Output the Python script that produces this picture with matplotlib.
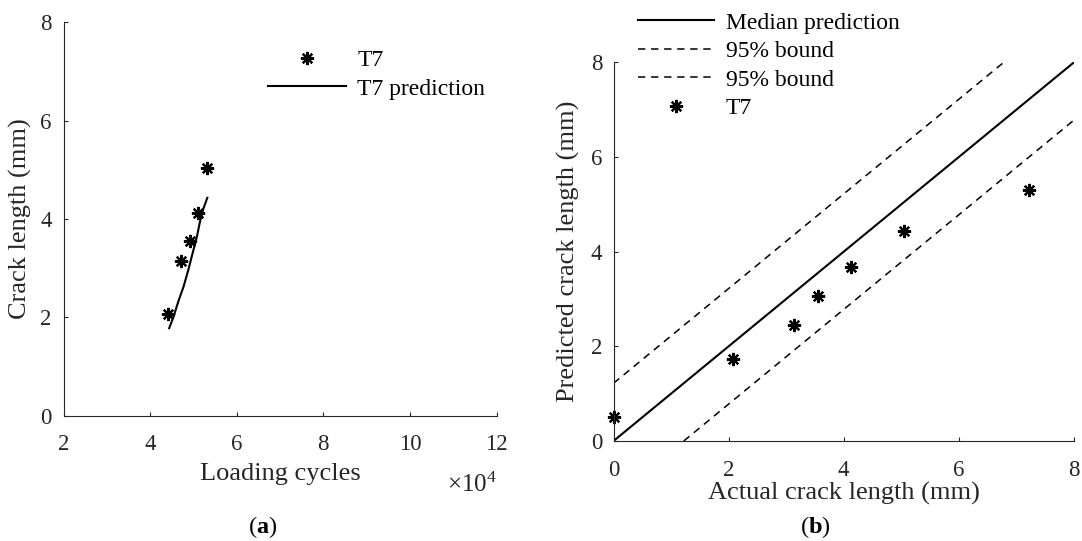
import matplotlib
matplotlib.use('Agg')
import matplotlib.pyplot as plt

# (a) T7 crack length vs loading cycles (x in units of 1e4 cycles)
t7_cycles = [4.41, 4.71, 4.91, 5.11, 5.32]
t7_crack = [2.07, 3.14, 3.56, 4.12, 5.04]
pred_cycles = [4.44, 4.54, 4.65, 4.77, 4.88, 4.98, 5.08, 5.15, 5.23, 5.32]
pred_crack = [1.78, 2.01, 2.32, 2.62, 2.96, 3.30, 3.64, 3.94, 4.21, 4.43]

# (b) predicted vs actual crack length
actual_len = [0.0, 2.07, 3.14, 3.56, 4.12, 5.04, 7.22]
predicted_len = [0.50, 1.73, 2.44, 3.06, 3.68, 4.44, 5.31]
median_x = [0, 8]
median_y = [0, 8]
upper_x = [0, 6.78]
upper_y = [1.22, 8]
lower_x = [1.22, 8]
lower_y = [0, 6.78]

W, H = 1082, 541
AX_COLOR = '#262626'

plt.rcParams['font.family'] = ['Liberation Serif', 'DejaVu Serif']
plt.rcParams['mathtext.fontset'] = 'custom'
plt.rcParams['mathtext.rm'] = 'Liberation Serif'
plt.rcParams['mathtext.bf'] = 'Liberation Serif:bold'
plt.rcParams['lines.scale_dashes'] = False

ast = (8, 2, 0)  # matlab style asterisk
dash = (0, (5.3, 4.1))

fig = plt.figure(figsize=(W / 100, H / 100), dpi=100)


def px_axes(x0, y0, x1, y1):
    # axes from pixel box (top-left origin)
    return fig.add_axes([x0 / W, 1 - y1 / H, (x1 - x0) / W, (y1 - y0) / H])


def style(ax, xpad, ypad):
    for s in ['top', 'right']:
        ax.spines[s].set_visible(False)
    for s in ['left', 'bottom']:
        ax.spines[s].set_color(AX_COLOR)
        ax.spines[s].set_linewidth(0.8)
    ax.tick_params(direction='in', length=3, width=0.8, colors=AX_COLOR, labelsize=16.5)
    ax.tick_params(axis='x', pad=xpad)
    ax.tick_params(axis='y', pad=ypad)


# ---- panel (a)
ax1 = px_axes(63.5, 22.3, 496.6, 415.7)
ax1.plot(t7_cycles, t7_crack, linestyle='none', marker=ast, markersize=9.5,
         markeredgewidth=1.6, color='black', label='T7')
ax1.plot(pred_cycles, pred_crack, color='black', linewidth=1.5, label='T7 prediction')
ax1.set_xlim(2, 12)
ax1.set_ylim(0, 8)
ax1.set_xticks([2, 4, 6, 8, 10, 12])
ax1.set_yticks([0, 2, 4, 6, 8])
style(ax1, 13, 8.5)
ax1.set_xlabel('Loading cycles', fontsize=19, color=AX_COLOR)
ax1.set_ylabel('Crack length (mm)', fontsize=19, color=AX_COLOR)
ax1.xaxis.set_label_coords(0.5, -0.121)
ax1.yaxis.set_label_coords(-0.073, 0.5)
ax1.text(1.0, -0.193, r'$\times\mathregular{10^4}$', transform=ax1.transAxes,
         ha='right', va='baseline', fontsize=18, color=AX_COLOR)
ax1.legend(loc='upper left', bbox_to_anchor=(267.7 / W, 1 - 49.5 / H),
           bbox_transform=fig.transFigure, frameon=False, fontsize=17,
           handlelength=3.3, handletextpad=0.5, labelspacing=0.3,
           borderpad=0, borderaxespad=0)

# ---- panel (b)
ax2 = px_axes(613.5, 62.3, 1074, 441)
ax2.plot(median_x, median_y, color='black', linewidth=1.5, label='Median prediction')
ax2.plot(upper_x, upper_y, color='black', linewidth=1.1, linestyle=dash, label='95% bound')
ax2.plot(lower_x, lower_y, color='black', linewidth=1.1, linestyle=dash, label='95% bound')
ax2.plot(actual_len, predicted_len, linestyle='none', marker=ast, markersize=9.5,
         markeredgewidth=1.6, color='black', label='T7', clip_on=False)
ax2.set_xlim(0, 8)
ax2.set_ylim(0, 8)
ax2.set_xticks([0, 2, 4, 6, 8])
ax2.set_yticks([0, 2, 4, 6, 8])
style(ax2, 13.5, 8)
ax2.set_xlabel('Actual crack length (mm)', fontsize=19, color=AX_COLOR)
ax2.set_ylabel('Predicted crack length (mm)', fontsize=19, color=AX_COLOR)
ax2.xaxis.set_label_coords(0.5, -0.107)
ax2.yaxis.set_label_coords(-0.073, 0.5)
ax2.legend(loc='upper left', bbox_to_anchor=(638.3 / W, 1 - 12 / H),
           bbox_transform=fig.transFigure, frameon=False, fontsize=17,
           handlelength=3.2, handletextpad=0.5, labelspacing=0.3,
           borderpad=0, borderaxespad=0)

# captions
fig.text(263 / W, 1 - 527 / H, r'$\mathrm{(}\mathbf{a}\mathrm{)}$', ha='center', va='center', fontsize=17.5)
fig.text(815 / W, 1 - 527 / H, r'$\mathrm{(}\mathbf{b}\mathrm{)}$', ha='center', va='center', fontsize=17.5)

fig.savefig('out.png', dpi=100)
